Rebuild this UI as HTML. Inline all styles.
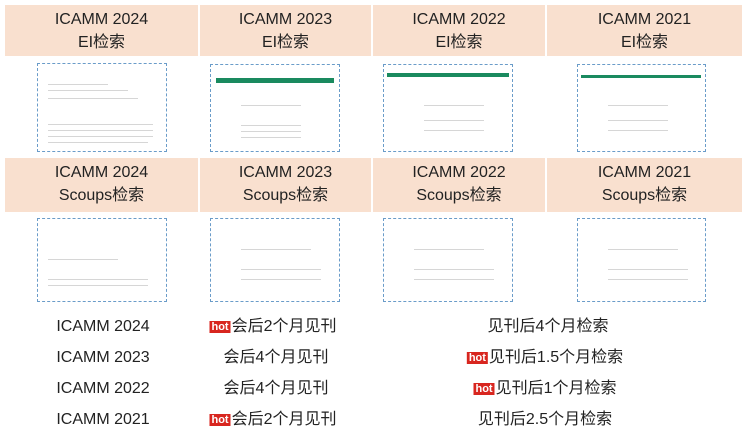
<!DOCTYPE html><html><head><meta charset="utf-8"><style>
body{margin:0;width:747px;height:431px;background:#fff;position:relative;overflow:hidden;font-family:"Liberation Sans","Noto Sans CJK SC",sans-serif;color:#222}
.h{position:absolute;background:#f9e0cf;text-align:center;font-size:16px;line-height:23px;padding-top:3px;box-sizing:border-box}
.im{position:absolute;border:1px dashed #6a9cc9;background:#fff;box-sizing:border-box;overflow:hidden}
.im i{position:absolute;height:1px;background:#d6d6d6;display:block}
.t{position:absolute;font-size:16px;text-align:center;transform:translateX(-50%);white-space:nowrap;line-height:18px}
.hot{display:inline-block;background:#d8261f;color:#fff;font-size:11px;font-weight:bold;padding:0 2px;line-height:12px;vertical-align:1px;margin-right:1px}
.g{position:absolute;background:#1a8a5f;height:5px}
</style></head><body>
<div class="h" style="left:5px;top:5px;width:193px;height:51px">ICAMM 2024<br>EI检索</div>
<div class="h" style="left:200px;top:5px;width:171px;height:51px">ICAMM 2023<br>EI检索</div>
<div class="h" style="left:373px;top:5px;width:172px;height:51px">ICAMM 2022<br>EI检索</div>
<div class="h" style="left:547px;top:5px;width:195px;height:51px">ICAMM 2021<br>EI检索</div>
<div class="h" style="left:5px;top:158px;width:193px;height:54px">ICAMM 2024<br>Scoups检索</div>
<div class="h" style="left:200px;top:158px;width:171px;height:54px">ICAMM 2023<br>Scoups检索</div>
<div class="h" style="left:373px;top:158px;width:172px;height:54px">ICAMM 2022<br>Scoups检索</div>
<div class="h" style="left:547px;top:158px;width:195px;height:54px">ICAMM 2021<br>Scoups检索</div>

<div class="im" style="left:37px;top:63px;width:130px;height:89px"><i style="left:10px;top:20px;width:60px"></i><i style="left:10px;top:26px;width:80px"></i><i style="left:10px;top:34px;width:90px"></i><i style="left:10px;top:60px;width:105px"></i><i style="left:10px;top:66px;width:105px"></i><i style="left:10px;top:72px;width:105px"></i><i style="left:10px;top:78px;width:100px"></i></div>
<div class="im" style="left:210px;top:64px;width:130px;height:88px"><div class="g" style="left:5px;top:13px;width:118px"></div><i style="left:30px;top:40px;width:60px"></i><i style="left:30px;top:60px;width:60px"></i><i style="left:30px;top:66px;width:60px"></i><i style="left:30px;top:72px;width:60px"></i></div>
<div class="im" style="left:383px;top:64px;width:130px;height:88px"><div class="g" style="left:3px;top:8px;width:122px;height:4px"></div><i style="left:40px;top:40px;width:60px"></i><i style="left:40px;top:55px;width:60px"></i><i style="left:40px;top:65px;width:60px"></i></div>
<div class="im" style="left:577px;top:64px;width:129px;height:88px"><div class="g" style="left:3px;top:10px;width:120px;height:3px"></div><i style="left:30px;top:40px;width:60px"></i><i style="left:30px;top:55px;width:60px"></i><i style="left:30px;top:65px;width:60px"></i></div>
<div class="im" style="left:37px;top:218px;width:130px;height:84px"><i style="left:10px;top:40px;width:70px"></i><i style="left:10px;top:60px;width:100px"></i><i style="left:10px;top:66px;width:100px"></i></div>
<div class="im" style="left:210px;top:218px;width:130px;height:84px"><i style="left:30px;top:30px;width:70px"></i><i style="left:30px;top:50px;width:80px"></i><i style="left:30px;top:60px;width:80px"></i></div>
<div class="im" style="left:383px;top:218px;width:130px;height:84px"><i style="left:30px;top:30px;width:70px"></i><i style="left:30px;top:50px;width:80px"></i><i style="left:30px;top:60px;width:80px"></i></div>
<div class="im" style="left:577px;top:218px;width:129px;height:84px"><i style="left:30px;top:30px;width:70px"></i><i style="left:30px;top:50px;width:80px"></i><i style="left:30px;top:60px;width:80px"></i></div>

<div class="t" style="left:103px;top:318px">ICAMM 2024</div>
<div class="t" style="left:103px;top:349px">ICAMM 2023</div>
<div class="t" style="left:103px;top:380px">ICAMM 2022</div>
<div class="t" style="left:103px;top:411px">ICAMM 2021</div>
<div class="t" style="left:273px;top:318px"><span class="hot">hot</span>会后2个月见刊</div>
<div class="t" style="left:276px;top:349px">会后4个月见刊</div>
<div class="t" style="left:276px;top:380px">会后4个月见刊</div>
<div class="t" style="left:273px;top:411px"><span class="hot">hot</span>会后2个月见刊</div>
<div class="t" style="left:548px;top:318px">见刊后4个月检索</div>
<div class="t" style="left:545px;top:349px"><span class="hot">hot</span>见刊后1.5个月检索</div>
<div class="t" style="left:545px;top:380px"><span class="hot">hot</span>见刊后1个月检索</div>
<div class="t" style="left:545px;top:411px">见刊后2.5个月检索</div>
</body></html>
